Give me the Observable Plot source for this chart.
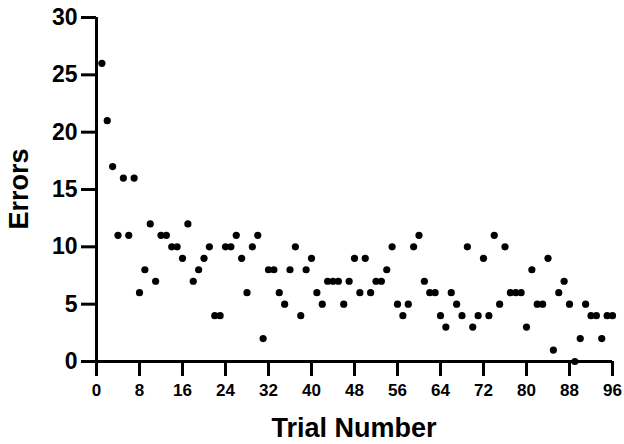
<!DOCTYPE html>
<html>
<head>
<meta charset="utf-8">
<script src="https://cdn.jsdelivr.net/npm/d3@7"></script>
<script src="https://cdn.jsdelivr.net/npm/@observablehq/plot@0.6"></script>
<style>
  html, body { margin: 0; padding: 0; background: #fff; }
  #chart svg { display: block; }
</style>
</head>
<body>
<div id="chart"></div>
<script>
const trials = d3.range(1, 97);
const errors = [
  26, 21, 17, 11, 16, 11, 16, 6, 8, 12,
  7, 11, 11, 10, 10, 9, 12, 7, 8, 9,
  10, 4, 4, 10, 10, 11, 9, 6, 10, 11,
  2, 8, 8, 6, 5, 8, 10, 4, 8, 9,
  6, 5, 7, 7, 7, 5, 7, 9, 6, 9,
  6, 7, 7, 8, 10, 5, 4, 5, 10, 11,
  7, 6, 6, 4, 3, 6, 5, 4, 10, 3,
  4, 9, 4, 11, 5, 10, 6, 6, 6, 3,
  8, 5, 5, 9, 1, 6, 7, 5, 0, 2,
  5, 4, 4, 2, 4, 4
];
const xTicks = [0, 8, 16, 24, 32, 40, 48, 56, 64, 72, 80, 88, 96];
const yTicks = [0, 5, 10, 15, 20, 25, 30];
const xTitle = "Trial Number";
const yTitle = "Errors";

const data = trials.map((t, i) => ({trial: t, errors: errors[i]}));
const font = "'Liberation Sans', Arial, Helvetica, sans-serif";

const chart = Plot.plot({
  width: 624,
  height: 444,
  marginLeft: 96,
  marginRight: 12,
  marginTop: 17,
  marginBottom: 83,
  style: {fontFamily: font, background: "#fff", color: "#000", overflow: "visible"},
  x: {domain: [0, 96]},
  y: {domain: [0, 30]},
  marks: [
    Plot.dot(data, {x: "trial", y: "errors", r: 3.6, fill: "#000", stroke: "none"}),
    Plot.ruleX([0], {y1: -1.3, y2: 30, stroke: "#000", strokeWidth: 3}),
    Plot.ruleY([0], {x1: 0, x2: 96, stroke: "#000", strokeWidth: 3}),
    Plot.axisY({ticks: yTicks, tickSize: 15, tickPadding: 4, strokeWidth: 3, fontSize: 23, fontWeight: "bold", label: null}),
    Plot.axisX({ticks: xTicks, tickSize: 15, tickPadding: 7, strokeWidth: 3, fontSize: 17, fontWeight: "bold", label: null})
  ]
});

// make sure tick strokes are heavy, like the reference
d3.select(chart).selectAll('g[aria-label$="axis tick"]').attr("stroke-width", 3)
  .selectAll("path").attr("stroke-width", 3);

// Axis titles positioned from the chart's own scales
const sx = chart.scale("x"), sy = chart.scale("y");
const svg = d3.select(chart);
const yMid = (sy.apply(0) + sy.apply(30)) / 2;
const xMid = (sx.apply(0) + sx.apply(96)) / 2;
svg.append("text")
  .attr("transform", `translate(19,${yMid}) rotate(-90)`)
  .attr("text-anchor", "middle")
  .attr("dy", "0.35em")
  .attr("font-family", font)
  .attr("font-weight", "bold")
  .attr("font-size", 27)
  .attr("fill", "#000")
  .text(yTitle);
svg.append("text")
  .attr("x", xMid)
  .attr("y", 437)
  .attr("text-anchor", "middle")
  .attr("font-family", font)
  .attr("font-weight", "bold")
  .attr("font-size", 27)
  .attr("fill", "#000")
  .text(xTitle);

document.getElementById("chart").appendChild(chart);
</script>
</body>
</html>
